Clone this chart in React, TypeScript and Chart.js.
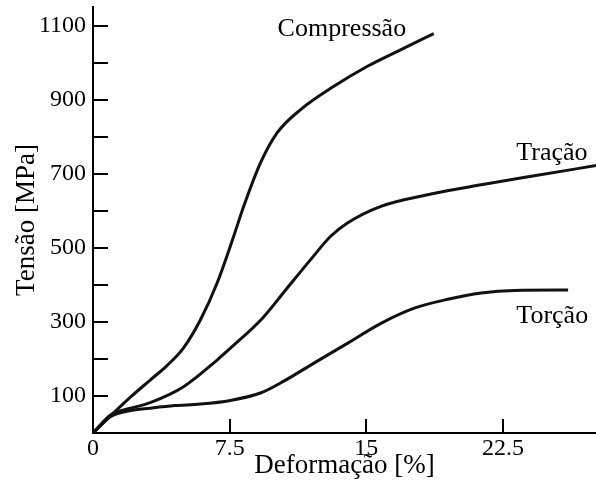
import React, { useEffect, useRef } from 'react';
import { Chart, registerables } from 'chart.js';

Chart.register(...registerables);

// Compressão curve (strain %, stress MPa)
const compStrain = [0, 1.0, 2.13, 3.14, 4.06, 4.97, 5.89, 6.81, 7.72, 8.27, 9.19, 10.1, 11.39, 13.22, 15.06, 16.9, 18.7];
const compStress = [0, 48, 100, 143, 182, 230, 305, 405, 531, 612, 729, 810, 873, 936, 990, 1035, 1078];

// Tração curve
const tracStrain = [0, 1.0, 2.0, 3.14, 4.97, 6.81, 7.54, 9.3, 10.57, 11.94, 13.04, 13.96, 15.8, 18.55, 21.3, 24.05, 27.6];
const tracStress = [0, 50, 66, 82, 125, 197, 229, 310, 386, 468, 531, 567, 612, 645, 670, 693, 722];

// Torção curve
const torcStrain = [0, 1.0, 2.0, 3.14, 4.5, 5.89, 7.54, 9.19, 10.47, 12.1, 13.96, 15.8, 17.63, 19.47, 21.3, 23.13, 26.07];
const torcStress = [0, 45, 60, 67, 74, 78, 88, 108, 140, 188, 242, 296, 337, 361, 378, 385, 386];

// Axis settings
const xMin = 0;
const xMax = 27.6;
const xTicks = [0, 7.5, 15, 22.5];
const yMin = 0;
const yMax = 1150;
const yTicks = [0, 100, 200, 300, 400, 500, 600, 700, 800, 900, 1000, 1100];
const yLabelled = [100, 300, 500, 700, 900, 1100];

// Curve labels (anchored at data coordinates, left/baseline)
const curveNames = ['Compressão', 'Tração', 'Torção'];
const curveLabelX = [10.13, 23.23, 23.23];
const curveLabelY = [1073, 738, 297];

const FONT = "'Liberation Serif', 'Times New Roman', serif";

const toPoints = (xs: number[], ys: number[]) => xs.map((x, i) => ({ x, y: ys[i] }));

const inwardTicks = {
  id: 'inwardTicks',
  afterDatasetsDraw(chart: any) {
    const { ctx, scales, chartArea } = chart;
    const xs = scales.x;
    const ys = scales.y;
    ctx.save();
    ctx.strokeStyle = '#000';
    ctx.lineWidth = 2;
    yTicks.forEach((v) => {
      if (v <= 0) return;
      const py = Math.round(ys.getPixelForValue(v));
      ctx.beginPath();
      ctx.moveTo(chartArea.left, py);
      ctx.lineTo(chartArea.left + 15, py);
      ctx.stroke();
    });
    xTicks.forEach((v) => {
      if (v <= 0) return;
      const px = Math.round(xs.getPixelForValue(v));
      ctx.beginPath();
      ctx.moveTo(px, chartArea.bottom);
      ctx.lineTo(px, chartArea.bottom - 14);
      ctx.stroke();
    });
    ctx.fillStyle = '#000';
    ctx.font = `26px ${FONT}`;
    ctx.textAlign = 'left';
    ctx.textBaseline = 'alphabetic';
    curveNames.forEach((name, i) => {
      ctx.fillText(name, xs.getPixelForValue(curveLabelX[i]), ys.getPixelForValue(curveLabelY[i]));
    });
    ctx.restore();
  },
};

export default function App() {
  const canvasRef = useRef<HTMLCanvasElement | null>(null);

  useEffect(() => {
    if (!canvasRef.current) return;
    const lineStyle = {
      borderColor: '#111',
      borderWidth: 3,
      pointRadius: 0,
      fill: false,
      cubicInterpolationMode: 'monotone' as const,
    };
    const chart = new Chart(canvasRef.current, {
      type: 'line',
      data: {
        datasets: [
          { label: 'Compressão', data: toPoints(compStrain, compStress), ...lineStyle },
          { label: 'Tração', data: toPoints(tracStrain, tracStress), ...lineStyle },
          { label: 'Torção', data: toPoints(torcStrain, torcStress), ...lineStyle },
        ],
      },
      options: {
        animation: false,
        responsive: true,
        maintainAspectRatio: false,
        layout: { padding: { top: 7, right: 0, left: 0, bottom: 0 } },
        plugins: { legend: { display: false }, tooltip: { enabled: false } },
        scales: {
          x: {
            type: 'linear',
            min: xMin,
            max: xMax,
            afterBuildTicks: (s: any) => { s.ticks = xTicks.map((value) => ({ value })); },
            afterFit: (s: any) => { s.height = 57; s.paddingLeft = 0; s.paddingRight = 0; },
            ticks: {
              color: '#000',
              font: { family: FONT, size: 24 },
              padding: 1,
              maxRotation: 0,
              autoSkip: false,
              callback: (v: any) => String(v),
            },
            grid: { display: true, drawOnChartArea: false, drawTicks: false },
            border: { display: true, color: '#000', width: 2 },
            title: {
              display: true,
              text: 'Deformação [%]',
              color: '#000',
              font: { family: FONT, size: 27 },
              padding: { top: 0, bottom: 8 },
            },
          },
          y: {
            type: 'linear',
            min: yMin,
            max: yMax,
            afterBuildTicks: (s: any) => { s.ticks = yTicks.map((value) => ({ value })); },
            afterFit: (s: any) => { s.width = 93; s.paddingTop = 0; s.paddingBottom = 0; },
            ticks: {
              color: '#000',
              font: { family: FONT, size: 24 },
              padding: 7,
              autoSkip: false,
              callback: (v: any) => (yLabelled.includes(Number(v)) ? String(v) : ''),
            },
            grid: { display: true, drawOnChartArea: false, drawTicks: false },
            border: { display: true, color: '#000', width: 2 },
            title: {
              display: true,
              text: 'Tensão [MPa]',
              color: '#000',
              font: { family: FONT, size: 27 },
              padding: { top: 11, bottom: 0 },
            },
          },
        },
      },
      plugins: [inwardTicks],
    });
    return () => chart.destroy();
  }, []);

  return (
    <div style={{ position: 'fixed', left: 0, top: 0, width: 596, height: 490, background: '#fff' }}>
      <canvas ref={canvasRef} />
    </div>
  );
}
